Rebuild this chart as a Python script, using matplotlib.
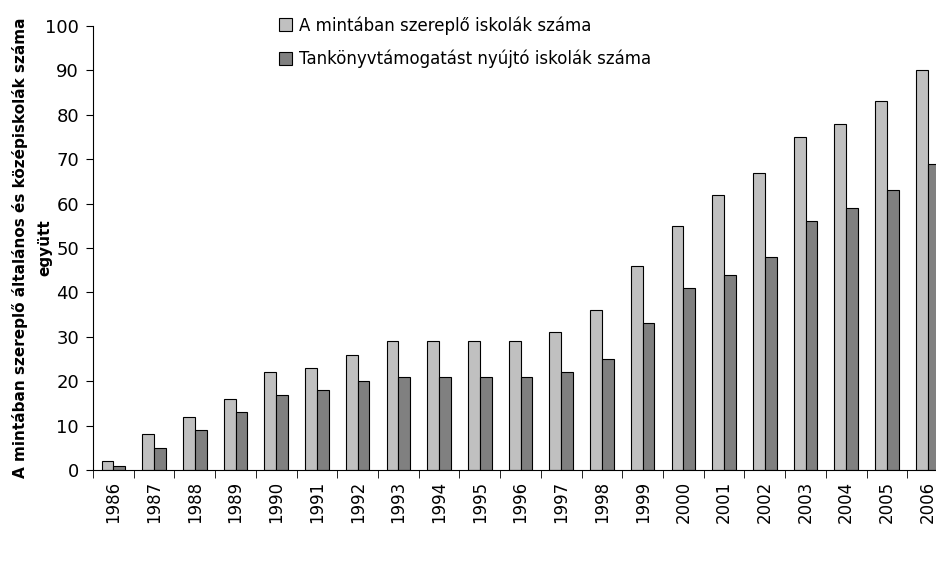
import matplotlib.pyplot as plt
import numpy as np

years = [str(y) for y in range(1986, 2007)]
mintaban = [2, 8, 12, 16, 22, 23, 26, 29, 29, 29, 29, 31, 36, 46, 55, 62, 67, 75, 78, 83, 90]
tamogatas = [1, 5, 9, 13, 17, 18, 20, 21, 21, 21, 21, 22, 25, 33, 41, 44, 48, 56, 59, 63, 69]

fig = plt.figure(figsize=(9.36, 5.61), dpi=100)
# axes runs a little past the right edge, like the original
ax = fig.add_axes([93/936, 1 - 470/561, 855/936, 444/561])

x = np.arange(len(years))
w = 0.29
ax.bar(x - w/2, mintaban, w, color='#c0c0c0', edgecolor='black', linewidth=0.8,
       label='A mintában szereplő iskolák száma')
ax.bar(x + w/2, tamogatas, w, color='#808080', edgecolor='black', linewidth=0.8,
       label='Tankönyvtámogatást nyújtó iskolák száma')

ax.set_xlim(-0.5, len(years) - 0.5)
ax.set_ylim(0, 100)
ax.set_yticks(range(0, 101, 10))
ax.tick_params(axis='y', labelsize=13, direction='out', length=5, pad=5)

ax.set_xticks(x)
ax.set_xticklabels(years, rotation=90, fontsize=12)
ax.tick_params(axis='x', length=0, pad=8)
ax.set_xticks(np.arange(-0.5, len(years), 1), minor=True)
ax.tick_params(axis='x', which='minor', length=6, direction='out')

for s in ['top', 'right']:
    ax.spines[s].set_visible(False)

# y title in two rows, drawn separately so the short row sits in the middle
ax.text(-0.085, 0.5, 'A mintában szereplő általános és középiskolák száma', transform=ax.transAxes,
        rotation=90, ha='center', va='center', fontsize=11, fontweight='bold')
ax.text(-0.056, 0.5, 'együtt', transform=ax.transAxes,
        rotation=90, ha='center', va='center', fontsize=11, fontweight='bold')

ax.legend(loc='upper left', bbox_to_anchor=(0.2, 1.056), frameon=False, fontsize=12,
          handlelength=0.8, handleheight=0.8, handletextpad=0.4, labelspacing=0.9)

fig.savefig('out.png', dpi=100)
